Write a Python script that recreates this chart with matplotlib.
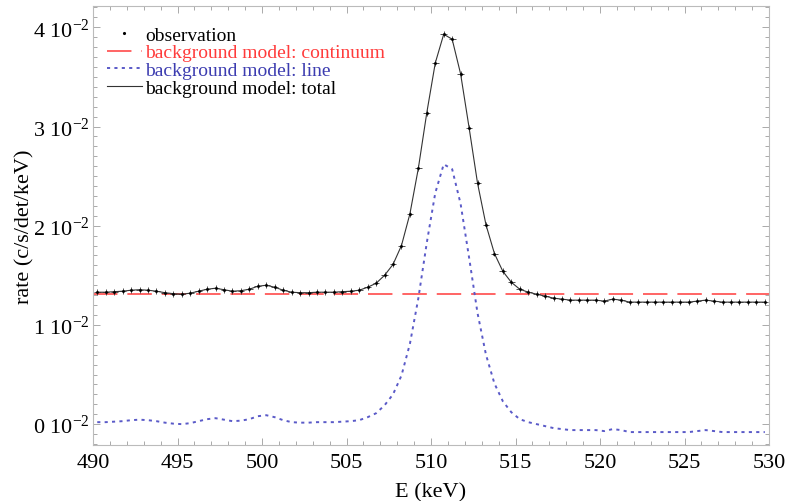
import numpy as np
import matplotlib
matplotlib.use("Agg")
import matplotlib.pyplot as plt
from matplotlib.ticker import MultipleLocator, FuncFormatter
from matplotlib.lines import Line2D

plt.rcParams['font.family'] = ['Liberation Serif', 'DejaVu Serif']
plt.rcParams['mathtext.fontset'] = 'custom'
plt.rcParams['mathtext.rm'] = 'Liberation Serif'

# bin centres (keV), 0.5 keV bins
energy = np.arange(490.25, 530.0, 0.5)

# observed rate, units of 1e-2 c/s/det/keV
obs = [
    1.335, 1.33, 1.335, 1.34, 1.35, 1.355, 1.35, 1.34, 1.325, 1.315,
    1.31, 1.32, 1.34, 1.36, 1.37, 1.355, 1.34, 1.345, 1.36, 1.39,
    1.40, 1.38, 1.35, 1.33, 1.325, 1.325, 1.33, 1.33, 1.33, 1.335,
    1.34, 1.35, 1.38, 1.42, 1.50, 1.61, 1.80, 2.12, 2.58, 3.14,
    3.64, 3.93, 3.88, 3.53, 2.99, 2.43, 2.01, 1.72, 1.54, 1.43,
    1.36, 1.33, 1.31, 1.29, 1.27, 1.26, 1.25, 1.25, 1.25, 1.25,
    1.24, 1.26, 1.25, 1.23, 1.23, 1.23, 1.23, 1.23, 1.23, 1.23,
    1.23, 1.24, 1.25, 1.24, 1.23, 1.23, 1.23, 1.23, 1.23, 1.23,
]
obs_err = 0.03

# background model components, same units
continuum = 1.31
line = [
    0.02, 0.02, 0.025, 0.03, 0.04, 0.045, 0.04, 0.03, 0.015, 0.005,
    0.0, 0.01, 0.03, 0.05, 0.06, 0.045, 0.03, 0.035, 0.05, 0.08,
    0.09, 0.07, 0.04, 0.02, 0.015, 0.015, 0.02, 0.02, 0.02, 0.025,
    0.03, 0.04, 0.07, 0.11, 0.19, 0.30, 0.49, 0.81, 1.27, 1.83,
    2.33, 2.62, 2.57, 2.22, 1.68, 1.12, 0.70, 0.41, 0.23, 0.12,
    0.05, 0.02, 0.00, -0.02, -0.04, -0.05, -0.06, -0.06, -0.06, -0.06,
    -0.07, -0.05, -0.06, -0.08, -0.08, -0.08, -0.08, -0.08, -0.08, -0.08,
    -0.08, -0.07, -0.06, -0.07, -0.08, -0.08, -0.08, -0.08, -0.08, -0.08,
]

scale = 1e-2
obs = np.array(obs) * scale
line = np.array(line) * scale
continuum = continuum * scale
total = continuum + line

red = "#ff3b3b"
blue = "#5a5ac8"

fig = plt.figure(figsize=(7.87, 5.02), dpi=100)
ax = fig.add_axes([0.1182, 0.1116, 0.859, 0.8735])

ax.axhline(continuum, color=red, lw=1.1, dashes=(16, 6.5))
ax.plot(energy, line, color=blue, lw=1.4, dashes=(1.6, 2.2))
ax.plot(energy, total, color="#333333", lw=0.8)
ax.errorbar(energy, obs, yerr=obs_err * scale, xerr=0.2, fmt=".", ms=2.2,
            color="black", ecolor="#333333", elinewidth=0.6, capsize=0)

ax.set_xlim(490, 530)
ax.set_ylim(-0.0021, 0.0421)

ax.xaxis.set_major_locator(MultipleLocator(5))
ax.xaxis.set_minor_locator(MultipleLocator(1))
ax.yaxis.set_major_locator(MultipleLocator(0.01))
ax.yaxis.set_minor_locator(MultipleLocator(0.001))
ax.yaxis.set_major_formatter(
    FuncFormatter(lambda v, p: f"{int(round(v * 100))} $\\mathregular{{10^{{-2}}}}$"))

ax.tick_params(which="both", direction="in", top=True, right=True,
               color="#aaaaaa", width=0.7)
ax.tick_params(which="major", length=5, labelsize=16)
ax.tick_params(which="minor", length=3)
ax.tick_params(axis="y", pad=2)
ax.tick_params(axis="x", pad=6)
for s in ax.spines.values():
    s.set_color("#bbbbbb")
    s.set_linewidth(0.8)

ax.set_xlabel("E (keV)", fontsize=16, labelpad=7)
ax.set_ylabel("rate (c/s/det/keV)", fontsize=16, labelpad=-1)

handles = [
    Line2D([], [], ls="none", marker=".", ms=2.5, color="black"),
    Line2D([], [], color=red, lw=1.1, dashes=(16, 6.5)),
    Line2D([], [], color=blue, lw=1.4, dashes=(1.6, 2.2)),
    Line2D([], [], color="#333333", lw=0.8),
]
labels = ["observation", "background model: continuum",
          "background model: line", "background model: total"]
leg = ax.legend(handles, labels, loc="upper left", bbox_to_anchor=(0.02, 0.955),
                frameon=False, fontsize=14, handlelength=1.8, handletextpad=0.2,
                labelspacing=0.0, borderpad=0, borderaxespad=0,
                labelcolor=["black", red, "#3c3cb0", "black"])

fig.savefig("out.png", dpi=100)
